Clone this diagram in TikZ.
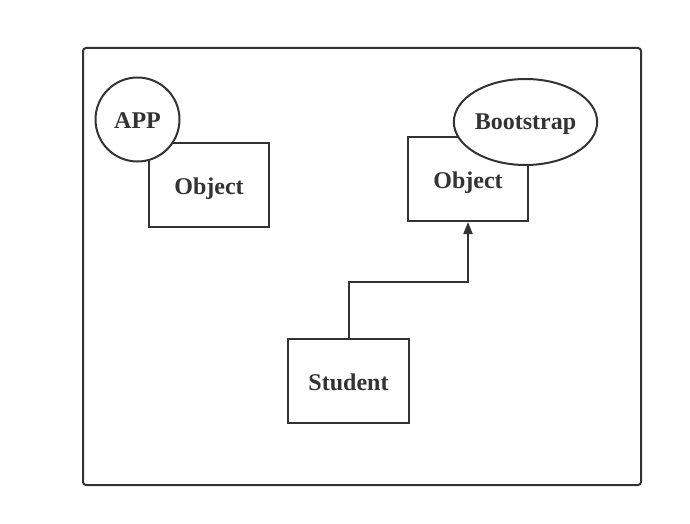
\documentclass[tikz,border=0pt]{standalone}
\usepackage{fontspec}
\setmainfont{Liberation Serif}
\usetikzlibrary{shapes.geometric,arrows.meta}
\definecolor{ink}{HTML}{333333}
\tikzset{
  txt/.style={text=ink, text height=18pt, text depth=0pt,
    font=\fontsize{24}{28}\selectfont\bfseries},
  box/.style={txt, draw=ink, line width=2pt, fill=white, rectangle, inner sep=0pt,
    minimum width=120pt, minimum height=84pt},
  badge/.style={txt, draw=ink, line width=2pt, fill=white, inner sep=0pt},
  frame/.style={draw=ink, line width=2pt, rounded corners=3pt, inner sep=0pt},
  link/.style={draw=ink, line width=2pt, -{Triangle[length=12pt,width=9pt]}}
}
\begin{document}
\begin{tikzpicture}[x=1pt,y=-1pt]
\useasboundingbox (0,0) rectangle (690,524);
\node[frame, minimum width=558pt, minimum height=437pt] (frm) at (362,266.5) {};
\node[box] (obj1) at (209,185) {Object};
\node[badge, circle, minimum size=84pt] (app) at (137.5,119.5) {APP};
\node[box] (obj2) at (468,179) {Object};
\node[badge, ellipse, minimum width=137pt, minimum height=86pt, text height=14pt] (boot) at (525.5,122) {Bootstrap};
\node[box, minimum width=121pt] (stu) at (348.5,381) {Student};
\draw[link] (stu.north) -- ++(0,-56) -| (obj2.south);
\end{tikzpicture}
\end{document}
